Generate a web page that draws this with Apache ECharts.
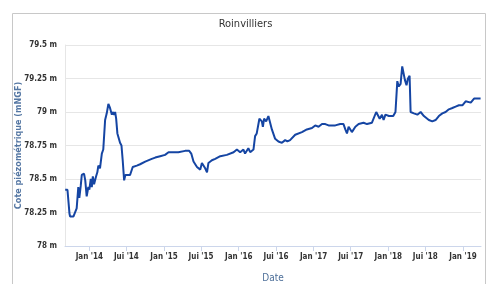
<!DOCTYPE html>
<html>
<head>
<meta charset="utf-8">
<script src="https://cdn.jsdelivr.net/npm/echarts@6/dist/echarts.min.js"></script>
<style>html,body{margin:0;padding:0;background:#fff;}#c{width:491px;height:284px;}</style>
</head>
<body>
<div id="c"></div>
<script>
const dates = [
'2013-09-05','2013-09-16','2013-09-26','2013-09-29','2013-10-15','2013-10-23','2013-10-31','2013-11-08','2013-11-13','2013-11-20',
'2013-11-25','2013-12-06','2013-12-12','2013-12-19','2013-12-27','2014-01-01','2014-01-08','2014-01-13','2014-01-18','2014-01-24',
'2014-02-03','2014-02-09','2014-02-14','2014-02-22','2014-03-03','2014-03-10','2014-03-19','2014-03-27','2014-04-04','2014-04-12',
'2014-04-21','2014-04-25','2014-05-02','2014-05-07','2014-05-12','2014-05-18','2014-05-25','2014-05-31','2014-06-07','2014-06-13',
'2014-06-20','2014-06-26','2014-07-19','2014-08-01','2014-08-21','2014-09-06','2014-10-01','2014-11-02','2014-11-19','2014-12-13',
'2015-01-06','2015-01-23','2015-01-31','2015-02-16','2015-03-12','2015-04-14','2015-05-04','2015-05-14','2015-05-25','2015-06-11',
'2015-06-27','2015-07-05','2015-07-21','2015-07-30','2015-08-06','2015-08-23','2015-09-08','2015-09-17','2015-10-03','2015-11-04',
'2015-12-07','2015-12-23','2015-12-31','2016-01-08','2016-01-24','2016-02-01','2016-02-17','2016-02-26','2016-03-13','2016-03-21',
'2016-03-29','2016-04-11','2016-04-23','2016-04-28','2016-05-04','2016-05-14','2016-05-25','2016-06-03','2016-06-11','2016-06-27',
'2016-07-13','2016-07-30','2016-08-15','2016-08-26','2016-09-08','2016-10-03','2016-11-05','2016-11-29','2016-12-24','2017-01-09',
'2017-01-25','2017-02-11','2017-02-27','2017-03-15','2017-04-17','2017-05-11','2017-05-27','2017-06-05','2017-06-13','2017-06-21',
'2017-07-07','2017-07-24','2017-08-09','2017-09-02','2017-09-19','2017-10-13','2017-10-21','2017-11-03','2017-11-20','2017-12-01',
'2017-12-09','2017-12-18','2018-01-04','2018-01-12','2018-01-25','2018-02-05','2018-02-14','2018-02-21','2018-03-02','2018-03-10',
'2018-03-15','2018-03-23','2018-03-31','2018-04-07','2018-04-15','2018-04-20','2018-05-06','2018-05-23','2018-06-08','2018-06-24',
'2018-07-02','2018-07-18','2018-08-04','2018-08-20','2018-09-05','2018-09-22','2018-10-08','2018-10-24','2018-11-10','2018-11-26',
'2018-12-12','2018-12-29','2019-01-14','2019-01-22','2019-02-08','2019-02-24','2019-03-12','2019-03-20','2019-03-28'
];
const levels = [
78.42,78.42,78.24,78.22,78.22,78.23,78.28,78.44,78.36,78.45,
78.53,78.54,78.49,78.37,78.44,78.42,78.50,78.44,78.52,78.46,
78.52,78.55,78.60,78.58,78.69,78.72,78.94,78.99,79.06,79.03,
78.98,79.00,78.98,79.00,78.95,78.84,78.84,78.77,78.75,78.64,
78.49,78.53,78.53,78.59,78.60,78.61,78.63,78.65,78.66,78.67,
78.68,78.70,78.69,78.70,78.70,78.71,78.71,78.69,78.63,78.59,
78.57,78.62,78.58,78.55,78.62,78.64,78.65,78.66,78.67,78.68,
78.70,78.72,78.73,78.70,78.72,78.69,78.73,78.70,78.72,78.82,
78.84,78.95,78.93,78.89,78.95,78.93,78.97,78.98,78.87,78.80,
78.78,78.77,78.79,78.78,78.79,78.83,78.85,78.87,78.88,78.90,
78.89,78.91,78.91,78.90,78.90,78.91,78.91,78.87,78.84,78.89,
78.85,78.89,78.91,78.92,78.91,78.92,78.91,79.00,78.95,78.98,
78.94,78.98,78.97,78.98,78.97,79.00,79.23,79.19,79.21,79.34,
79.35,79.24,79.20,79.25,79.27,79.00,78.99,78.98,79.00,78.97,
78.97,78.94,78.93,78.94,78.97,78.99,79.00,79.02,79.03,79.04,
79.05,79.05,79.08,79.09,79.07,79.10,79.10,79.09,79.10
];
const tickDates = ['2014-01-01','2014-07-01','2015-01-01','2015-07-01','2016-01-01','2016-07-01','2017-01-01','2017-07-01','2018-01-01','2018-07-01','2019-01-01'];
const tickLabels = ["Jan '14","Jui '14","Jan '15","Jui '15","Jan '16","Jui '16","Jan '17","Jui '17","Jan '18","Jui '18","Jan '19"];

const toTime = d => +new Date(d + 'T00:00:00Z');
const tickTimes = tickDates.map(toTime);
const seriesData = dates.map((d, i) => [toTime(d), levels[i]]);
const FONT = '"Liberation Sans Narrow", "DejaVu Sans Condensed", "Open Sans", sans-serif';

const chart = echarts.init(document.getElementById('c'), null, {renderer: 'canvas'});
chart.setOption({
  animation: false,
  backgroundColor: '#fff',
  title: {
    text: 'Roinvilliers', left: 'center', top: 14,
    textStyle: {fontFamily: FONT, fontSize: 11, fontWeight: 'normal', color: '#333'}
  },
  graphic: [{
    type: 'rect', shape: {x: 12.5, y: 13.5, width: 473, height: 300}, silent: true,
    style: {fill: 'none', stroke: '#c8c8c8', lineWidth: 1}
  }],
  grid: {left: 65, right: 10, top: 45, bottom: 38, outerBoundsMode: 'none', containLabel: false},
  xAxis: {
    type: 'value',
    min: toTime('2013-09-04'),
    max: toTime('2019-03-30'),
    name: 'Date', nameLocation: 'middle', nameGap: 27, nameMoveOverlap: false,
    nameTextStyle: {color: '#4d6f99', fontFamily: FONT, fontSize: 10},
    axisLine: {show: true, lineStyle: {color: '#ccd6eb'}},
    axisTick: {show: true, customValues: tickTimes, length: 5, lineStyle: {color: '#ccd6eb'}},
    axisLabel: {
      customValues: tickTimes, margin: 7,
      fontFamily: FONT, fontSize: 8, fontWeight: 'bold', color: '#333',
      formatter: function (v) { const i = tickTimes.indexOf(v); return i >= 0 ? tickLabels[i] : ''; }
    },
    splitLine: {show: false}
  },
  yAxis: {
    type: 'value', min: 78, max: 79.5, interval: 0.25,
    name: 'Cote piézométrique (mNGF)', nameLocation: 'middle', nameGap: 42, nameMoveOverlap: false,
    nameTextStyle: {color: '#5577a3', fontFamily: FONT, fontSize: 9, fontWeight: 'bold'},
    axisLine: {show: true, lineStyle: {color: '#e6e6e6'}},
    axisTick: {show: false},
    axisLabel: {
      margin: 8, fontFamily: FONT, fontSize: 8, fontWeight: 'bold', color: '#333',
      formatter: v => v + ' m', padding: [0, 0, 6, 0]
    },
    splitLine: {lineStyle: {color: '#e6e6e6'}}
  },
  series: [{
    type: 'line', data: seriesData, showSymbol: false, symbol: 'none',
    lineStyle: {color: '#1545a3', width: 2}, itemStyle: {color: '#1545a3'}
  }]
});
</script>
</body>
</html>
